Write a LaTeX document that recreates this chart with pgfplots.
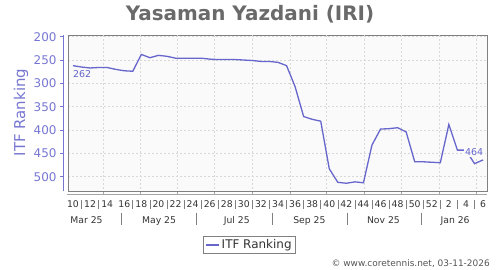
\documentclass[border=0pt]{standalone}
\usepackage{pgfplots}
\pgfplotsset{compat=1.18}
\usepackage{fontspec}
\setmainfont{DejaVu Sans}
\definecolor{linec}{HTML}{6666CC}
\definecolor{lav}{HTML}{7676D2}
\definecolor{titlec}{HTML}{6A6A6A}
\definecolor{framec}{HTML}{808080}
\definecolor{gridc}{HTML}{D8D8D8}
\definecolor{bgc}{HTML}{FAFAFA}
\definecolor{tickc}{HTML}{333333}
\definecolor{copyc}{HTML}{555555}
\begin{document}
\begin{tikzpicture}
\path[use as bounding box] (0,0) rectangle (500bp,-270bp);
\node[anchor=base, font=\fontsize{20}{23}\selectfont\bfseries, text=titlec, inner sep=0pt] at (250bp,-20bp) {Yasaman Yazdani (IRI)};
\node[rotate=90, font=\fontsize{15}{17}\selectfont, text=lav, inner sep=0pt] at (21bp,-112.5bp) {ITF Ranking};
\node[anchor=base east, font=\fontsize{9}{11}\selectfont, text=copyc, inner sep=0pt] at (490bp,-266.5bp) {© www.coretennis.net, 03-11-2026};
\begin{axis}[
  at={(68.3bp,-191bp)}, anchor=south west,
  scale only axis, width=419bp, height=156bp,
  xmin=9.45, xmax=58.5, ymin=196.36, ymax=530.6, y dir=reverse,
  clip=false,
  axis background/.style={fill=bgc},
  axis line style={draw=framec, line width=0.8bp},
  major tick length=0pt,
  xtick={10,12,14,16,18,20,22,24,26,28,30,32,34,36,38,40,42,44,46,48,50,52,54,56,58},
  xticklabels={10,12,14,16,18,20,22,24,26,28,30,32,34,36,38,40,42,44,46,48,50,52,2,4,6},
  extra x ticks={13.55,17.84,22.26,26.55,30.98,35.41,39.69,44.12,48.41,52.84,57.26},
  extra x tick labels={},
  extra x tick style={grid=major},
  ytick={200,250,300,350,400,450,500},
  ymajorgrids,
  major grid style={draw=gridc, dash pattern=on 2bp off 2bp, line width=0.5bp},
  /pgf/number format/assume math mode=true,
  yticklabel style={inner sep=0pt, anchor=east, xshift=-11.6bp, text=lav, font=\fontsize{12}{14}\selectfont},
  xticklabel style={inner sep=0pt, anchor=base, yshift=-16.3bp, text=tickc, font=\fontsize{9.3}{11}\selectfont},
  legend style={at={(0.4325,-0.346)}, anchor=center, draw=framec, fill=white,
    font=\fontsize{12}{13}\selectfont, text=tickc, inner xsep=2bp, inner ysep=1bp, row sep=0pt},
  legend image code/.code={\draw[#1] (0bp,0bp) -- (13bp,0bp);},
]
\addplot[linec, line width=1.3bp, mark=none] table {
x y
10 262
11 265
12 267
13 266
14 266
15 270
16 273
17 274
18 238
19 245
20 240
21 242
22 246
23 246
24 246
25 246
26 248
27 249
28 249
29 249
30 250
31 251
32 253
33 253
34 255
35 262
36 307
37 371
38 377
39 381
40 483
41 512
42 514
43 511
44 513
45 432
46 398
47 397
48 395
49 404
50 468
51 468
52 469
53 470
54 388
55 443
56 443
57 472
58 464
};
\addlegendentry{ITF Ranking}
\node[anchor=north west, text=linec, font=\fontsize{9.5}{11}\selectfont, inner sep=0pt, yshift=-5bp] at (axis cs:10,262) {262};
\node[anchor=south east, fill=bgc, text=linec, font=\fontsize{9.5}{11}\selectfont, inner sep=1.5bp, xshift=1.8bp, yshift=2.5bp] at (axis cs:58,464) {464};
% y axis line
\draw[lav, line width=0.8bp] ([xshift=-5bp]rel axis cs:0,0) -- ([xshift=-5bp]rel axis cs:0,1);
\pgfplotsinvokeforeach{200,250,300,350,400,450,500}{
  \draw[lav, line width=0.6bp] ([xshift=-5bp]axis cs:9.45,#1) -- ([xshift=-8bp]axis cs:9.45,#1);
}
% x axis secondary line
\draw[framec!70, line width=0.8bp] ([yshift=-3bp]axis cs:9.25,530.6) -- ([yshift=-3bp]axis cs:58.5,530.6);
\pgfplotsinvokeforeach{13.55,17.84,22.26,26.55,30.98,35.41,39.69,44.12,48.41,52.84,57.26}{
  \draw[framec!70, line width=0.6bp] ([yshift=-3bp]axis cs:#1,530.6) -- ([yshift=-1bp]axis cs:#1,530.6);
}
\pgfplotsinvokeforeach{11,13,17,19,21,23,25,27,29,31,33,35,37,39,41,43,45,47,49,51,53,55,57}{
  \draw[framec, line width=0.6bp] ([yshift=-9bp]axis cs:#1,530.6) -- ([yshift=-18.3bp]axis cs:#1,530.6);
}
\pgfplotsinvokeforeach{15.70,24.48,33.38,42.16,50.75}{
  \draw[framec, line width=0.6bp] ([yshift=-21.7bp]axis cs:#1,530.6) -- ([yshift=-34bp]axis cs:#1,530.6);
}
\node[anchor=base, text=tickc, font=\fontsize{9.3}{11}\selectfont, inner sep=0pt, yshift=-32.3bp] at (axis cs:11.58,530.6) {Mar 25};
\node[anchor=base, text=tickc, font=\fontsize{9.3}{11}\selectfont, inner sep=0pt, yshift=-32.3bp] at (axis cs:20.07,530.6) {May 25};
\node[anchor=base, text=tickc, font=\fontsize{9.3}{11}\selectfont, inner sep=0pt, yshift=-32.3bp] at (axis cs:29.17,530.6) {Jul 25};
\node[anchor=base, text=tickc, font=\fontsize{9.3}{11}\selectfont, inner sep=0pt, yshift=-32.3bp] at (axis cs:37.67,530.6) {Sep 25};
\node[anchor=base, text=tickc, font=\fontsize{9.3}{11}\selectfont, inner sep=0pt, yshift=-32.3bp] at (axis cs:46.34,530.6) {Nov 25};
\node[anchor=base, text=tickc, font=\fontsize{9.3}{11}\selectfont, inner sep=0pt, yshift=-32.3bp] at (axis cs:54.73,530.6) {Jan 26};
\end{axis}
\end{tikzpicture}
\end{document}
